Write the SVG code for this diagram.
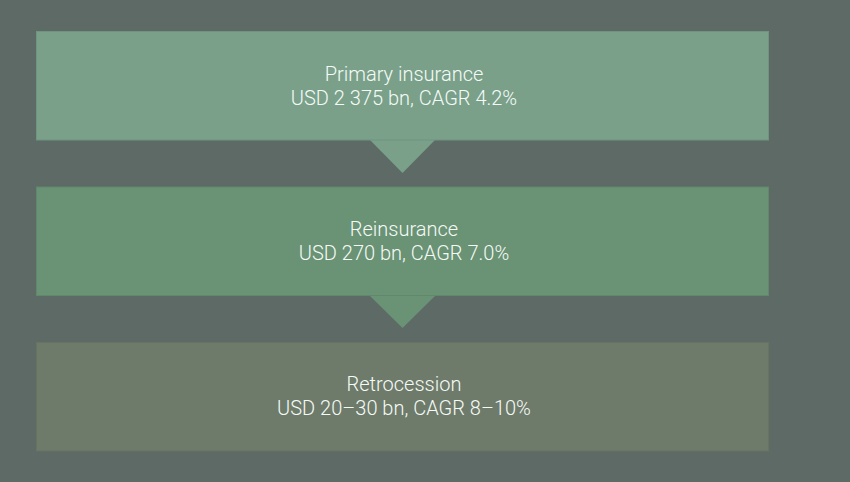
<svg xmlns="http://www.w3.org/2000/svg" width="850" height="482" viewBox="0 0 850 482">
<style>
.t{font-family:Roboto,"Liberation Sans",sans-serif;font-weight:300;font-size:20px;fill:#f4fbf7;text-anchor:middle}
.b1{fill:#7aa08a;stroke:#6f9480;stroke-width:1}
.b2{fill:#6a9274;stroke:#62886b;stroke-width:1}
.b3{fill:#6e7a6a;stroke:#687362;stroke-width:1}
</style>
<rect width="850" height="482" fill="#5d6a66"/>
<g id="connectors">
<polygon points="370,140 435,140 402.5,173" fill="#7aa08a"/>
<polygon points="370,296 435,296 402.5,328" fill="#6a9274"/>
</g>
<g id="primary">
<rect class="b1" x="36.5" y="31.5" width="732" height="108.5"/>
<text class="t" x="404" y="81">Primary insurance</text>
<text class="t" x="404" y="105">USD 2 375 bn, CAGR 4.2%</text>
</g>
<g id="reinsurance">
<rect class="b2" x="36.5" y="187" width="732" height="108.5"/>
<text class="t" x="404" y="236">Reinsurance</text>
<text class="t" x="404" y="260">USD 270 bn, CAGR 7.0%</text>
</g>
<g id="retrocession">
<rect class="b3" x="36.5" y="342.5" width="732" height="108.5"/>
<text class="t" x="404" y="391">Retrocession</text>
<text class="t" x="404" y="415">USD 20–30 bn, CAGR 8–10%</text>
</g>
</svg>
